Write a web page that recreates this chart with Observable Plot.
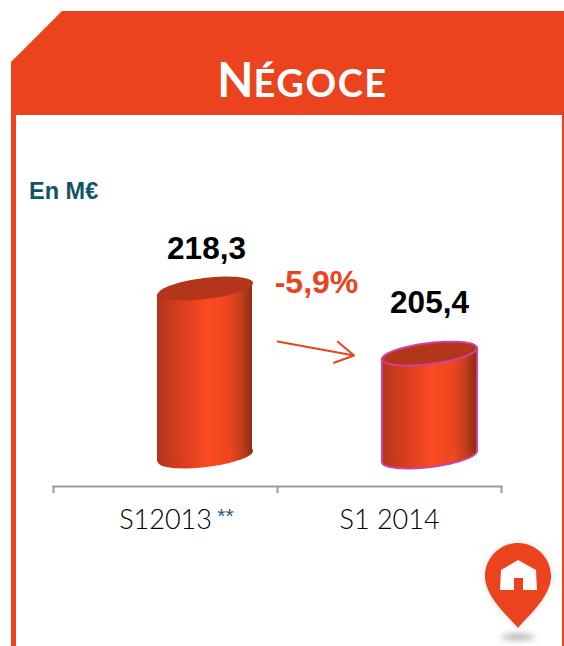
<!DOCTYPE html>
<html lang="fr">
<head>
<meta charset="utf-8">
<script src="https://cdn.jsdelivr.net/npm/d3@7"></script>
<script src="https://cdn.jsdelivr.net/npm/@observablehq/plot@0.6"></script>
<style>
  html, body { margin: 0; padding: 0; background: #fff; }
  #page { position: relative; width: 564px; height: 646px; overflow: hidden; background: #fff; }
  #edge { position: absolute; left: 11px; top: 11px; width: 553px; height: 635px; background: #ea431e;
          clip-path: polygon(51px 0, 100% 0, 100% 100%, 0 100%, 0 51px); }
  #inner { position: absolute; left: 16px; top: 115px; width: 546px; height: 531px; background: #fff; }
  #title { position: absolute; left: 11px; width: 583px; top: 42px; margin: 0; text-align: center; color: #fff;
           font: 700 47px/1.3 Lato, sans-serif; white-space: nowrap; }
  #title span { font-size: 54px; font-variant: small-caps; letter-spacing: 1.5px; }
  #unit { position: absolute; left: 29px; top: 177px; color: #0f5566; font: 700 23.5px/1.2 "Liberation Sans", sans-serif; }
  #chart { position: absolute; left: 0; top: 0; }
  #pin { position: absolute; left: 470px; top: 530px; }
</style>
</head>
<body>
<div id="page">
  <div id="edge"></div>
  <div id="inner"></div>
  <h1 id="title">N<span>égoce</span></h1>
  <div id="chart"></div>
  <div id="unit">En M€</div>
  <svg id="pin" width="94" height="116" viewBox="0 0 94 116">
    <defs>
      <filter id="blur" x="-50%" y="-100%" width="200%" height="300%"><feGaussianBlur stdDeviation="3"/></filter>
    </defs>
    <ellipse cx="48" cy="107" rx="17" ry="3" fill="#aaa" filter="url(#blur)"/>
    <path d="M48 13 C66 13 81 28 81 46 C81 66 60 84 48 98 C36 84 15 66 15 46 C15 28 30 13 48 13 Z" fill="#999" opacity=".35" filter="url(#blur)"/>
    <path d="M48 13 C66 13 81 28 81 46 C81 66 60 84 48 98 C36 84 15 66 15 46 C15 28 30 13 48 13 Z" fill="#ea431e"/>
    <path d="M48 30 L66 40 L67 60 L53 60 L53 48 L44 48 L44 60 L30 60 L31 40 Z" fill="#fff"/>
  </svg>
</div>
<script>
// Chart values
const periods = ["S12013", "S1 2014"];
const values = [218.3, 205.4];
const valueLabels = ["218,3", "205,4"];
const changeLabel = "-5,9%";
const footnote = "**";
const outlinedPeriods = ["S1 2014"];
const axisFloor = 185;   // the value axis of the cylinders is truncated
const arrowValues = [211.83, 203.74];

const rows = periods.map((period, i) => ({period, value: values[i], label: valueLabels[i]}));
const outlined = rows.filter((d) => outlinedPeriods.includes(d.period));

const tilt = -7;
const tanTilt = Math.tan(-tilt * Math.PI / 180);
const offset = 40;      // cylinders sit right of their band centre
const halfWidth = 47.5;

// Tilted ellipse glyph for the cylinder caps
const ellipseSymbol = {
  draw(context, size) {
    const rx = Math.sqrt(size / Math.PI), ry = rx * 0.22, n = 60;
    const a = tilt * Math.PI / 180;
    for (let i = 0; i <= n; ++i) {
      const t = (i / n) * 2 * Math.PI;
      const ex = rx * Math.cos(t), ey = ry * Math.sin(t);
      const px = ex * Math.cos(a) - ey * Math.sin(a);
      const py = ex * Math.sin(a) + ey * Math.cos(a);
      if (i === 0) context.moveTo(px, py); else context.lineTo(px, py);
    }
    context.closePath();
  }
};

const gradient = () => {
  const svg = d3.create("svg:defs");
  const g = svg.append("linearGradient").attr("id", "cyl").attr("x1", 0).attr("x2", 1).attr("y1", 0).attr("y2", 0);
  [[0, "#ac351a"], [0.12, "#c63a1c"], [0.35, "#e2421e"], [0.52, "#fb4a20"], [0.76, "#ee461f"], [0.9, "#bf3c1c"], [1, "#8c2b12"]]
    .forEach(([o, c]) => g.append("stop").attr("offset", o).attr("stop-color", c));
  return svg.node();
};

// Skews each bar so that its ends follow the tilt of the caps
const skewBars = (index, scales, values, dims, context, next) => {
  const g = next(index, scales, values, dims, context);
  d3.select(g).selectAll("rect").attr("transform", function () {
    const cx = +this.getAttribute("x") + +this.getAttribute("width") / 2;
    return `translate(${cx},0) skewY(${tilt}) translate(${-cx},0)`;
  });
  return g;
};

const capR = 47.8;

const plot = Plot.plot({
  width: 564,
  height: 646,
  marginLeft: 53,
  marginRight: 63,
  marginTop: 0,
  marginBottom: 160,
  style: {background: "transparent", overflow: "visible"},
  x: {domain: periods, range: [53, 501], padding: 0, axis: null, label: null},
  y: {domain: [axisFloor, values[0]], range: [456, 288], axis: null},
  marks: [
    gradient,
    // bottom caps
    Plot.dot(rows, {x: "period", y: () => axisFloor, dx: offset, r: capR, symbol: ellipseSymbol, fill: "url(#cyl)", stroke: "none"}),
    Plot.dot(outlined, {x: "period", y: () => axisFloor, dx: offset, r: capR, symbol: ellipseSymbol, fill: "url(#cyl)", stroke: "#d43fa0", strokeWidth: 2}),
    // bodies
    Plot.barY(rows, {x: "period", y1: () => axisFloor, y2: "value", fill: "url(#cyl)", insetLeft: 104, insetRight: 25, render: skewBars}),
    Plot.ruleX(outlined, {x: "period", y1: () => axisFloor, y2: "value", dx: offset - halfWidth, dy: halfWidth * tanTilt, stroke: "#d43fa0", strokeWidth: 2}),
    Plot.ruleX(outlined, {x: "period", y1: () => axisFloor, y2: "value", dx: offset + halfWidth, dy: -halfWidth * tanTilt, stroke: "#d43fa0", strokeWidth: 2}),
    // top caps
    Plot.dot(rows, {x: "period", y: "value", dx: offset, r: capR, symbol: ellipseSymbol, fill: "#b3361a", stroke: "none"}),
    Plot.dot(outlined, {x: "period", y: "value", dx: offset, r: capR, symbol: ellipseSymbol, fill: "#b3361a", stroke: "#d43fa0", strokeWidth: 2}),
    // axis line and ticks at the band limits
    Plot.frame({anchor: "bottom", stroke: "#999", strokeWidth: 2}),
    Plot.axisX({fill: "none", stroke: "#999", strokeWidth: 2, tickSize: 7, dx: -112, label: null}),
    Plot.axisX(periods.slice(-1), {fill: "none", stroke: "#999", strokeWidth: 2, tickSize: 7, dx: 112, label: null}),
    Plot.axisX({stroke: "none", tickSize: 0, tickPadding: 23, label: null, fill: "#000", fontSize: 27, fontFamily: "Lato, sans-serif", fontWeight: 300}),
    Plot.text([periods[0]], {x: (d) => d, frameAnchor: "bottom", dx: 60, dy: 36, text: () => footnote, fill: "#1f5b8c", fontSize: 21, fontFamily: "Liberation Sans, sans-serif"}),
    // value labels
    Plot.text(rows.slice(0, 1), {x: "period", y: "value", text: "label", dx: 41, dy: -40, fontSize: 31.5, fontWeight: 700, fontFamily: "Liberation Sans, sans-serif", fill: "#000"}),
    Plot.text(rows.slice(1), {x: "period", y: "value", text: "label", dx: 40, dy: -51, fontSize: 31.5, fontWeight: 700, fontFamily: "Liberation Sans, sans-serif", fill: "#000"}),
    // change
    Plot.text([changeLabel], {x: () => periods[0], y: () => values[0], text: (d) => d, dx: 151, dy: -6, fontSize: 32, fontWeight: 700, fontFamily: "Liberation Sans, sans-serif", fill: "#ea431e"}),
    Plot.arrow([0], {x1: () => periods[0], x2: () => periods[1], y1: () => arrowValues[0], y2: () => arrowValues[1], bend: 0, insetStart: 114, insetEnd: 36, stroke: "#ea431e", strokeWidth: 2, headLength: 16})
  ]
});
document.getElementById("chart").appendChild(plot);
</script>
</body>
</html>
